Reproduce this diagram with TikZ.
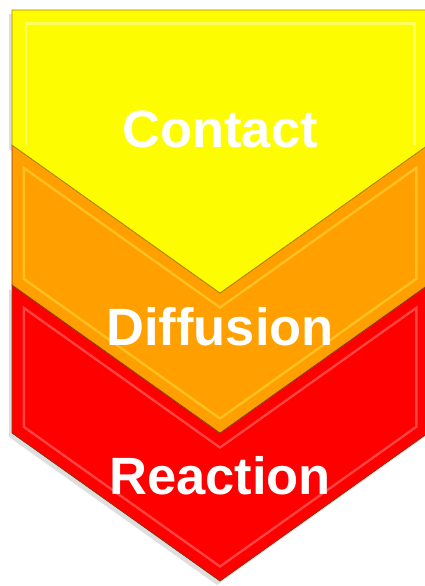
\documentclass[tikz,border=0pt]{standalone}
\usepackage{fontspec}
\setmainfont{Liberation Sans}
\usetikzlibrary{positioning}

\definecolor{stepyellow}{RGB}{254,252,0}
\definecolor{stepyellowhi}{RGB}{255,255,120}
\definecolor{steporange}{RGB}{255,160,0}
\definecolor{steporangehi}{RGB}{255,200,45}
\definecolor{stepred}{RGB}{255,0,0}
\definecolor{stepredhi}{RGB}{255,85,85}
\definecolor{stepedge}{RGB}{125,60,25}

% notched chevron: top corner y, bottom corner y
\newcommand{\notchpath}[2]{(12,#1) -- (220,#1+148) -- (428,#1) -- (428,#2) -- (220,#2+148) -- (12,#2) -- cycle}
% flat top chevron
\newcommand{\flatpath}[2]{(12,#1) -- (428,#1) -- (428,#2) -- (220,#2+148) -- (12,#2) -- cycle}

\begin{document}
\begin{tikzpicture}[
        x=1pt,
        y=-1pt,
        steptext/.style={text=white, font=\bfseries\fontsize{52.5}{60}\selectfont, anchor=base, inner sep=0pt},
        edge/.style={draw=stepedge, line width=0.7pt, line join=miter},
        shade/.style={fill=black, opacity=0.13}
    ]
        \useasboundingbox (0,0) rectangle (425,586);
        \clip (0,0) rectangle (425,586);

        % soft shadow
        \fill[shade, shift={(-3,4)}] \notchpath{285}{433};
        \fill[shade, shift={(-3,4)}] \flatpath{10}{145};

        % red and orange steps
        \foreach \top/\bot/\col in {285/433/stepred, 145/285/steporange}{
            \begin{scope}
                \clip \notchpath{\top}{\bot};
                \fill[\col] \notchpath{\top}{\bot};
                \draw[\col hi, line width=26pt, opacity=0.8] \notchpath{\top}{\bot};
                \draw[\col, line width=21pt] \notchpath{\top}{\bot};
            \end{scope}
            \draw[edge] \notchpath{\top}{\bot};
        }

        % yellow step
        \begin{scope}
            \clip \flatpath{10}{145};
            \fill[stepyellow] \flatpath{10}{145};
            \draw[stepyellowhi, line width=30pt, opacity=0.8] (12,145) -- (12,10) -- (428,10) -- (428,145);
            \draw[stepyellow, line width=25pt] (12,145) -- (12,10) -- (428,10) -- (428,145);
        \end{scope}
        \draw[edge, draw=stepedge!60!stepyellow] \flatpath{10}{145};

        \node[steptext] (contact) at (220,147) {Contact};
        \node[steptext] (diffusion) at (220,345) {Diffusion};
        \node[steptext] (reaction) at (220,494) {Reaction};
    \end{tikzpicture}
\end{document}
